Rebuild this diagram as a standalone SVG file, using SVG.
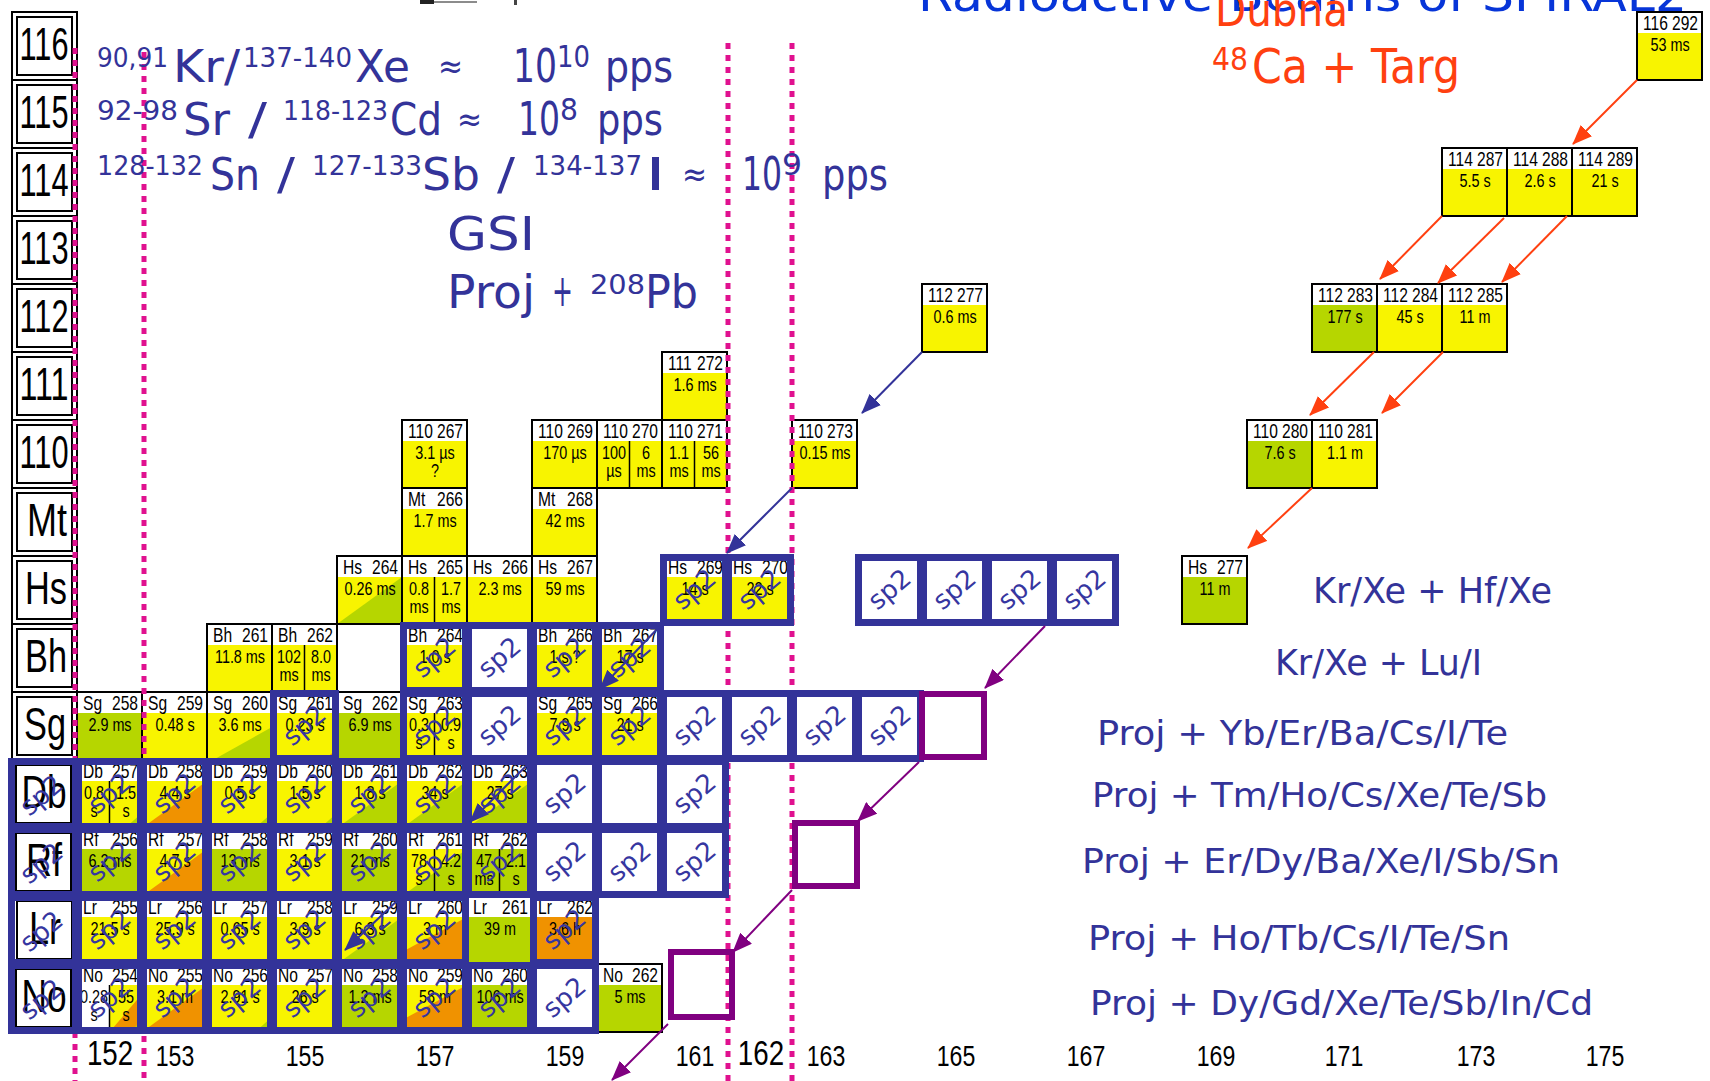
<svg xmlns="http://www.w3.org/2000/svg" xmlns:xlink="http://www.w3.org/1999/xlink" width="1710" height="1081" viewBox="0 0 1710 1081">
<style>
.W{fill:#fff}.Y{fill:#f8f400}.G{fill:#b6d600}.O{fill:#f09200}
.bk{fill:none;stroke:#000;stroke-width:2}
.bb{fill:none;stroke:#333399;stroke-width:7}
.pb{fill:none;stroke:#800080;stroke-width:6}
.s,.m,.h,.lab,.ax{font-family:'Liberation Sans Narrow','Liberation Sans',Arial,sans-serif;fill:#000}
.s{font-size:20px;transform-box:fill-box;transform-origin:left center;transform:scaleX(.78)}
.m{font-size:20px;text-anchor:end;transform-box:fill-box;transform-origin:right center;transform:scaleX(.78)}
.h{font-size:18px;text-anchor:middle;transform-box:fill-box;transform-origin:center;transform:scaleX(.8)}
.lab{font-size:46px;text-anchor:middle}
.ax{font-size:30px;text-anchor:middle;transform-box:fill-box;transform-origin:center;transform:scaleX(.77)}
.ax.big{font-size:36px}
.hw{font-family:'DejaVu Sans',sans-serif;fill:#333399}
.sp{font-family:'DejaVu Sans',sans-serif;fill:#3636a0;font-size:26px;text-anchor:middle}
.mg{stroke:#e0118f;stroke-width:5;stroke-dasharray:6 6;fill:none}
</style>
<defs>
<g id="bY"><rect class="Y" width="65" height="68"/><rect class="W" width="65" height="21"/></g>
<g id="bG"><rect class="G" width="65" height="68"/><rect class="W" width="65" height="21"/></g>
<g id="bO"><rect class="O" width="65" height="68"/><rect class="W" width="65" height="21"/></g>
<rect id="bW" class="W" width="65" height="68"/>
<rect id="bk" class="bk" width="65" height="68"/>
<rect id="bb" class="bb" x="1.5" y="1.5" width="62" height="65"/>
<polygon id="tGf" class="G" points="0,68 65,21 65,68"/>
<polygon id="tOf" class="O" points="0,68 65,21 65,68"/>
<polygon id="tGm" class="G" points="6,68 65,35 65,68"/>
<polygon id="tGs" class="G" points="48,68 65,53 65,68"/>
<polygon id="tOs" class="O" points="52,68 65,57 65,68"/>
<polygon id="tOb" class="O" points="0,56 65,21 65,68 0,68"/>
<line id="dv" x1="32.5" y1="21" x2="32.5" y2="68" stroke="#000" stroke-width="1.5"/>
<marker id="mR" markerUnits="userSpaceOnUse" markerWidth="20" markerHeight="16" viewBox="0 0 20 16" refX="19" refY="8" orient="auto"><path d="M0,0 L20,8 L0,16 z" fill="#ff4010"/></marker>
<marker id="mB" markerUnits="userSpaceOnUse" markerWidth="20" markerHeight="16" viewBox="0 0 20 16" refX="19" refY="8" orient="auto"><path d="M0,0 L20,8 L0,16 z" fill="#333399"/></marker>
<marker id="mP" markerUnits="userSpaceOnUse" markerWidth="20" markerHeight="16" viewBox="0 0 20 16" refX="19" refY="8" orient="auto"><path d="M0,0 L20,8 L0,16 z" fill="#800080"/></marker>
</defs>
<rect width="1710" height="1081" fill="#fff"/>
<g id="top-marks"><rect x="420" y="0" width="14" height="4" fill="#222"/><line x1="434" y1="2" x2="477" y2="2" stroke="#666" stroke-width="1.5"/><rect x="514" y="0" width="3" height="5" fill="#444"/></g>

<g id="row-labels">
<g id="lab-116"><rect class="bk" x="12" y="12" width="65" height="68"/><rect class="bk" x="17" y="17" width="55" height="58"/><text class="lab" x="44" y="60" textLength="49" lengthAdjust="spacingAndGlyphs">116</text></g>
<g id="lab-115"><rect class="bk" x="12" y="80" width="65" height="68"/><rect class="bk" x="17" y="85" width="55" height="58"/><text class="lab" x="44" y="128" textLength="49" lengthAdjust="spacingAndGlyphs">115</text></g>
<g id="lab-114"><rect class="bk" x="12" y="148" width="65" height="68"/><rect class="bk" x="17" y="153" width="55" height="58"/><text class="lab" x="44" y="196" textLength="49" lengthAdjust="spacingAndGlyphs">114</text></g>
<g id="lab-113"><rect class="bk" x="12" y="216" width="65" height="68"/><rect class="bk" x="17" y="221" width="55" height="58"/><text class="lab" x="44" y="264" textLength="49" lengthAdjust="spacingAndGlyphs">113</text></g>
<g id="lab-112"><rect class="bk" x="12" y="284" width="65" height="68"/><rect class="bk" x="17" y="289" width="55" height="58"/><text class="lab" x="44" y="332" textLength="49" lengthAdjust="spacingAndGlyphs">112</text></g>
<g id="lab-111"><rect class="bk" x="12" y="352" width="65" height="68"/><rect class="bk" x="17" y="357" width="55" height="58"/><text class="lab" x="44" y="400" textLength="49" lengthAdjust="spacingAndGlyphs">111</text></g>
<g id="lab-110"><rect class="bk" x="12" y="420" width="65" height="68"/><rect class="bk" x="17" y="425" width="55" height="58"/><text class="lab" x="44" y="468" textLength="49" lengthAdjust="spacingAndGlyphs">110</text></g>
<g id="lab-Mt"><rect class="bk" x="12" y="488" width="65" height="68"/><rect class="bk" x="17" y="493" width="55" height="58"/><text class="lab" x="47" y="536" textLength="40" lengthAdjust="spacingAndGlyphs">Mt</text></g>
<g id="lab-Hs"><rect class="bk" x="12" y="556" width="65" height="68"/><rect class="bk" x="17" y="561" width="55" height="58"/><text class="lab" x="46" y="604" textLength="42" lengthAdjust="spacingAndGlyphs">Hs</text></g>
<g id="lab-Bh"><rect class="bk" x="12" y="624" width="65" height="68"/><rect class="bk" x="17" y="629" width="55" height="58"/><text class="lab" x="46" y="672" textLength="42" lengthAdjust="spacingAndGlyphs">Bh</text></g>
<g id="lab-Sg"><rect class="bk" x="12" y="692" width="65" height="68"/><rect class="bk" x="17" y="697" width="55" height="58"/><text class="lab" x="45" y="740" textLength="42" lengthAdjust="spacingAndGlyphs">Sg</text></g>
<g id="lab-Db"><rect class="bk" x="16" y="765" width="55" height="58"/><text class="lab" x="44" y="808" textLength="45" lengthAdjust="spacingAndGlyphs">Db</text></g>
<g id="lab-Rf"><rect class="bk" x="16" y="833" width="55" height="58"/><text class="lab" x="44" y="876" textLength="36" lengthAdjust="spacingAndGlyphs">Rf</text></g>
<g id="lab-Lr"><rect class="bk" x="17" y="901" width="55" height="58"/><text class="lab" x="45" y="944" textLength="32" lengthAdjust="spacingAndGlyphs">Lr</text></g>
<g id="lab-No"><rect class="bk" x="16" y="969" width="55" height="58"/><text class="lab" x="44" y="1012" textLength="45" lengthAdjust="spacingAndGlyphs">No</text></g>
</g>

<g id="nuclides">
<g id="n-116-292"><use href="#bY" x="1637" y="12"/><use href="#bk" x="1637" y="12"/><text class="s" x="1643" y="30">116</text><text class="m" x="1698" y="30">292</text><text class="h" x="1670" y="51">53 ms</text></g>
<g id="n-114-287"><use href="#bY" x="1442" y="148"/><use href="#bk" x="1442" y="148"/><text class="s" x="1448" y="166">114</text><text class="m" x="1503" y="166">287</text><text class="h" x="1475" y="187">5.5 s</text></g>
<g id="n-114-288"><use href="#bY" x="1507" y="148"/><use href="#bk" x="1507" y="148"/><text class="s" x="1513" y="166">114</text><text class="m" x="1568" y="166">288</text><text class="h" x="1540" y="187">2.6 s</text></g>
<g id="n-114-289"><use href="#bY" x="1572" y="148"/><use href="#bk" x="1572" y="148"/><text class="s" x="1578" y="166">114</text><text class="m" x="1633" y="166">289</text><text class="h" x="1605" y="187">21 s</text></g>
<g id="n-112-277"><use href="#bY" x="922" y="284"/><use href="#bk" x="922" y="284"/><text class="s" x="928" y="302">112</text><text class="m" x="983" y="302">277</text><text class="h" x="955" y="323">0.6 ms</text></g>
<g id="n-112-283"><use href="#bG" x="1312" y="284"/><use href="#bk" x="1312" y="284"/><text class="s" x="1318" y="302">112</text><text class="m" x="1373" y="302">283</text><text class="h" x="1345" y="323">177 s</text></g>
<g id="n-112-284"><use href="#bY" x="1377" y="284"/><use href="#bk" x="1377" y="284"/><text class="s" x="1383" y="302">112</text><text class="m" x="1438" y="302">284</text><text class="h" x="1410" y="323">45 s</text></g>
<g id="n-112-285"><use href="#bY" x="1442" y="284"/><use href="#bk" x="1442" y="284"/><text class="s" x="1448" y="302">112</text><text class="m" x="1503" y="302">285</text><text class="h" x="1475" y="323">11 m</text></g>
<g id="n-111-272"><use href="#bY" x="662" y="352"/><use href="#bk" x="662" y="352"/><text class="s" x="668" y="370">111</text><text class="m" x="723" y="370">272</text><text class="h" x="695" y="391">1.6 ms</text></g>
<g id="n-110-267"><use href="#bY" x="402" y="420"/><use href="#bk" x="402" y="420"/><text class="s" x="408" y="438">110</text><text class="m" x="463" y="438">267</text><text class="h" x="435" y="459">3.1 µs</text><text class="h" x="435" y="477">?</text></g>
<g id="n-110-269"><use href="#bY" x="532" y="420"/><use href="#bk" x="532" y="420"/><text class="s" x="538" y="438">110</text><text class="m" x="593" y="438">269</text><text class="h" x="565" y="459">170 µs</text></g>
<g id="n-110-270"><use href="#bY" x="597" y="420"/><use href="#dv" x="597" y="420"/><use href="#bk" x="597" y="420"/><text class="s" x="603" y="438">110</text><text class="m" x="658" y="438">270</text><text class="h" x="614" y="459">100</text><text class="h" x="614" y="477">µs</text><text class="h" x="646" y="459">6</text><text class="h" x="646" y="477">ms</text></g>
<g id="n-110-271"><use href="#bY" x="662" y="420"/><use href="#dv" x="662" y="420"/><use href="#bk" x="662" y="420"/><text class="s" x="668" y="438">110</text><text class="m" x="723" y="438">271</text><text class="h" x="679" y="459">1.1</text><text class="h" x="679" y="477">ms</text><text class="h" x="711" y="459">56</text><text class="h" x="711" y="477">ms</text></g>
<g id="n-110-273"><use href="#bY" x="792" y="420"/><use href="#bk" x="792" y="420"/><text class="s" x="798" y="438">110</text><text class="m" x="853" y="438">273</text><text class="h" x="825" y="459">0.15 ms</text></g>
<g id="n-110-280"><use href="#bG" x="1247" y="420"/><use href="#bk" x="1247" y="420"/><text class="s" x="1253" y="438">110</text><text class="m" x="1308" y="438">280</text><text class="h" x="1280" y="459">7.6 s</text></g>
<g id="n-110-281"><use href="#bY" x="1312" y="420"/><use href="#bk" x="1312" y="420"/><text class="s" x="1318" y="438">110</text><text class="m" x="1373" y="438">281</text><text class="h" x="1345" y="459">1.1 m</text></g>
<g id="n-Mt266"><use href="#bY" x="402" y="488"/><use href="#bk" x="402" y="488"/><text class="s" x="408" y="506">Mt</text><text class="m" x="463" y="506">266</text><text class="h" x="435" y="527">1.7 ms</text></g>
<g id="n-Mt268"><use href="#bY" x="532" y="488"/><use href="#bk" x="532" y="488"/><text class="s" x="538" y="506">Mt</text><text class="m" x="593" y="506">268</text><text class="h" x="565" y="527">42 ms</text></g>
<g id="n-Hs264"><use href="#bY" x="337" y="556"/><use href="#tGf" x="337" y="556"/><use href="#bk" x="337" y="556"/><text class="s" x="343" y="574">Hs</text><text class="m" x="398" y="574">264</text><text class="h" x="370" y="595">0.26 ms</text></g>
<g id="n-Hs265"><use href="#bY" x="402" y="556"/><use href="#dv" x="402" y="556"/><use href="#bk" x="402" y="556"/><text class="s" x="408" y="574">Hs</text><text class="m" x="463" y="574">265</text><text class="h" x="419" y="595">0.8</text><text class="h" x="419" y="613">ms</text><text class="h" x="451" y="595">1.7</text><text class="h" x="451" y="613">ms</text></g>
<g id="n-Hs266"><use href="#bY" x="467" y="556"/><use href="#bk" x="467" y="556"/><text class="s" x="473" y="574">Hs</text><text class="m" x="528" y="574">266</text><text class="h" x="500" y="595">2.3 ms</text></g>
<g id="n-Hs267"><use href="#bY" x="532" y="556"/><use href="#bk" x="532" y="556"/><text class="s" x="538" y="574">Hs</text><text class="m" x="593" y="574">267</text><text class="h" x="565" y="595">59 ms</text></g>
<g id="n-Hs269"><use href="#bY" x="662" y="556"/><text class="s" x="668" y="574">Hs</text><text class="m" x="723" y="574">269</text><text class="h" x="695" y="595">14 s</text></g>
<g id="n-Hs270"><use href="#bY" x="727" y="556"/><text class="s" x="733" y="574">Hs</text><text class="m" x="788" y="574">270</text><text class="h" x="760" y="595">22 s</text></g>
<g id="n-Hs277"><use href="#bG" x="1182" y="556"/><use href="#bk" x="1182" y="556"/><text class="s" x="1188" y="574">Hs</text><text class="m" x="1243" y="574">277</text><text class="h" x="1215" y="595">11 m</text></g>
<g id="n-Bh261"><use href="#bY" x="207" y="624"/><use href="#bk" x="207" y="624"/><text class="s" x="213" y="642">Bh</text><text class="m" x="268" y="642">261</text><text class="h" x="240" y="663">11.8 ms</text></g>
<g id="n-Bh262"><use href="#bY" x="272" y="624"/><use href="#dv" x="272" y="624"/><use href="#bk" x="272" y="624"/><text class="s" x="278" y="642">Bh</text><text class="m" x="333" y="642">262</text><text class="h" x="289" y="663">102</text><text class="h" x="289" y="681">ms</text><text class="h" x="321" y="663">8.0</text><text class="h" x="321" y="681">ms</text></g>
<g id="n-Bh264"><use href="#bY" x="402" y="624"/><text class="s" x="408" y="642">Bh</text><text class="m" x="463" y="642">264</text><text class="h" x="435" y="663">1.0 s</text></g>
<g id="n-Bh266"><use href="#bY" x="532" y="624"/><text class="s" x="538" y="642">Bh</text><text class="m" x="593" y="642">266</text><text class="h" x="565" y="663">1 s ?</text></g>
<g id="n-Bh267"><use href="#bY" x="597" y="624"/><text class="s" x="603" y="642">Bh</text><text class="m" x="658" y="642">267</text><text class="h" x="630" y="663">17 s</text></g>
<g id="n-Sg258"><use href="#bG" x="77" y="692"/><use href="#bk" x="77" y="692"/><text class="s" x="83" y="710">Sg</text><text class="m" x="138" y="710">258</text><text class="h" x="110" y="731">2.9 ms</text></g>
<g id="n-Sg259"><use href="#bY" x="142" y="692"/><use href="#bk" x="142" y="692"/><text class="s" x="148" y="710">Sg</text><text class="m" x="203" y="710">259</text><text class="h" x="175" y="731">0.48 s</text></g>
<g id="n-Sg260"><use href="#bY" x="207" y="692"/><use href="#tGm" x="207" y="692"/><use href="#bk" x="207" y="692"/><text class="s" x="213" y="710">Sg</text><text class="m" x="268" y="710">260</text><text class="h" x="240" y="731">3.6 ms</text></g>
<g id="n-Sg261"><use href="#bY" x="272" y="692"/><use href="#tOs" x="272" y="692"/><text class="s" x="278" y="710">Sg</text><text class="m" x="333" y="710">261</text><text class="h" x="305" y="731">0.23 s</text></g>
<g id="n-Sg262"><use href="#bG" x="337" y="692"/><use href="#bk" x="337" y="692"/><text class="s" x="343" y="710">Sg</text><text class="m" x="398" y="710">262</text><text class="h" x="370" y="731">6.9 ms</text></g>
<g id="n-Sg263"><use href="#bY" x="402" y="692"/><use href="#dv" x="402" y="692"/><text class="s" x="408" y="710">Sg</text><text class="m" x="463" y="710">263</text><text class="h" x="419" y="731">0.3</text><text class="h" x="419" y="749">s</text><text class="h" x="451" y="731">0.9</text><text class="h" x="451" y="749">s</text></g>
<g id="n-Sg265"><use href="#bY" x="532" y="692"/><text class="s" x="538" y="710">Sg</text><text class="m" x="593" y="710">265</text><text class="h" x="565" y="731">7.9 s</text></g>
<g id="n-Sg266"><use href="#bY" x="597" y="692"/><text class="s" x="603" y="710">Sg</text><text class="m" x="658" y="710">266</text><text class="h" x="630" y="731">21 s</text></g>
<g id="n-Db257"><use href="#bY" x="77" y="760"/><use href="#tGs" x="77" y="760"/><use href="#dv" x="77" y="760"/><text class="s" x="83" y="778">Db</text><text class="m" x="138" y="778">257</text><text class="h" x="94" y="799">0.8</text><text class="h" x="94" y="817">s</text><text class="h" x="126" y="799">1.5</text><text class="h" x="126" y="817">s</text></g>
<g id="n-Db258"><use href="#bY" x="142" y="760"/><use href="#tOf" x="142" y="760"/><text class="s" x="148" y="778">Db</text><text class="m" x="203" y="778">258</text><text class="h" x="175" y="799">4.4 s</text></g>
<g id="n-Db259"><use href="#bY" x="207" y="760"/><use href="#tGs" x="207" y="760"/><text class="s" x="213" y="778">Db</text><text class="m" x="268" y="778">259</text><text class="h" x="240" y="799">0.5 s</text></g>
<g id="n-Db260"><use href="#bY" x="272" y="760"/><use href="#tGs" x="272" y="760"/><text class="s" x="278" y="778">Db</text><text class="m" x="333" y="778">260</text><text class="h" x="305" y="799">1.5 s</text></g>
<g id="n-Db261"><use href="#bY" x="337" y="760"/><use href="#tGf" x="337" y="760"/><text class="s" x="343" y="778">Db</text><text class="m" x="398" y="778">261</text><text class="h" x="370" y="799">1.8 s</text></g>
<g id="n-Db262"><use href="#bY" x="402" y="760"/><use href="#tGf" x="402" y="760"/><text class="s" x="408" y="778">Db</text><text class="m" x="463" y="778">262</text><text class="h" x="435" y="799">34 s</text></g>
<g id="n-Db263"><use href="#bY" x="467" y="760"/><use href="#tGf" x="467" y="760"/><text class="s" x="473" y="778">Db</text><text class="m" x="528" y="778">263</text><text class="h" x="500" y="799">27 s</text></g>
<g id="n-Rf256"><use href="#bG" x="77" y="828"/><text class="s" x="83" y="846">Rf</text><text class="m" x="138" y="846">256</text><text class="h" x="110" y="867">6.2 ms</text></g>
<g id="n-Rf257"><use href="#bY" x="142" y="828"/><use href="#tOf" x="142" y="828"/><text class="s" x="148" y="846">Rf</text><text class="m" x="203" y="846">257</text><text class="h" x="175" y="867">4.7 s</text></g>
<g id="n-Rf258"><use href="#bG" x="207" y="828"/><text class="s" x="213" y="846">Rf</text><text class="m" x="268" y="846">258</text><text class="h" x="240" y="867">13 ms</text></g>
<g id="n-Rf259"><use href="#bY" x="272" y="828"/><text class="s" x="278" y="846">Rf</text><text class="m" x="333" y="846">259</text><text class="h" x="305" y="867">3.1 s</text></g>
<g id="n-Rf260"><use href="#bG" x="337" y="828"/><text class="s" x="343" y="846">Rf</text><text class="m" x="398" y="846">260</text><text class="h" x="370" y="867">21 ms</text></g>
<g id="n-Rf261"><use href="#bY" x="402" y="828"/><use href="#tGf" x="402" y="828"/><use href="#dv" x="402" y="828"/><text class="s" x="408" y="846">Rf</text><text class="m" x="463" y="846">261</text><text class="h" x="419" y="867">78</text><text class="h" x="419" y="885">s</text><text class="h" x="451" y="867">4.2</text><text class="h" x="451" y="885">s</text></g>
<g id="n-Rf262"><use href="#bG" x="467" y="828"/><use href="#dv" x="467" y="828"/><text class="s" x="473" y="846">Rf</text><text class="m" x="528" y="846">262</text><text class="h" x="484" y="867">47</text><text class="h" x="484" y="885">ms</text><text class="h" x="516" y="867">2.1</text><text class="h" x="516" y="885">s</text></g>
<g id="n-Lr255"><use href="#bY" x="77" y="896"/><text class="s" x="83" y="914">Lr</text><text class="m" x="138" y="914">255</text><text class="h" x="110" y="935">21.5 s</text></g>
<g id="n-Lr256"><use href="#bY" x="142" y="896"/><text class="s" x="148" y="914">Lr</text><text class="m" x="203" y="914">256</text><text class="h" x="175" y="935">25.9 s</text></g>
<g id="n-Lr257"><use href="#bY" x="207" y="896"/><text class="s" x="213" y="914">Lr</text><text class="m" x="268" y="914">257</text><text class="h" x="240" y="935">0.65 s</text></g>
<g id="n-Lr258"><use href="#bY" x="272" y="896"/><text class="s" x="278" y="914">Lr</text><text class="m" x="333" y="914">258</text><text class="h" x="305" y="935">3.9 s</text></g>
<g id="n-Lr259"><use href="#bY" x="337" y="896"/><use href="#tGf" x="337" y="896"/><text class="s" x="343" y="914">Lr</text><text class="m" x="398" y="914">259</text><text class="h" x="370" y="935">6.3 s</text></g>
<g id="n-Lr260"><use href="#bY" x="402" y="896"/><use href="#tOb" x="402" y="896"/><text class="s" x="408" y="914">Lr</text><text class="m" x="463" y="914">260</text><text class="h" x="435" y="935">3 m</text></g>
<g id="n-Lr261"><use href="#bG" x="467" y="896"/><use href="#bk" x="467" y="896"/><text class="s" x="473" y="914">Lr</text><text class="m" x="528" y="914">261</text><text class="h" x="500" y="935">39 m</text></g>
<g id="n-Lr262"><use href="#bO" x="532" y="896"/><text class="s" x="538" y="914">Lr</text><text class="m" x="593" y="914">262</text><text class="h" x="565" y="935">3.6 h</text></g>
<g id="n-No254"><rect class="W" x="77" y="964" width="65" height="68"/><rect class="Y" x="109.5" y="985" width="32.5" height="47"/><polygon class="O" points="109.5,1032 142,994 142,1032"/><polygon class="G" points="130,1032 142,1020 142,1032"/><use href="#dv" x="77" y="964"/><text class="s" x="83" y="982">No</text><text class="m" x="138" y="982">254</text><text class="h" x="94" y="1003">0.28</text><text class="h" x="94" y="1021">s</text><text class="h" x="126" y="1003">55</text><text class="h" x="126" y="1021">s</text></g>
<g id="n-No255"><use href="#bY" x="142" y="964"/><use href="#tOf" x="142" y="964"/><text class="s" x="148" y="982">No</text><text class="m" x="203" y="982">255</text><text class="h" x="175" y="1003">3.1 m</text></g>
<g id="n-No256"><use href="#bY" x="207" y="964"/><use href="#tGs" x="207" y="964"/><text class="s" x="213" y="982">No</text><text class="m" x="268" y="982">256</text><text class="h" x="240" y="1003">2.91 s</text></g>
<g id="n-No257"><use href="#bY" x="272" y="964"/><text class="s" x="278" y="982">No</text><text class="m" x="333" y="982">257</text><text class="h" x="305" y="1003">26 s</text></g>
<g id="n-No258"><use href="#bG" x="337" y="964"/><text class="s" x="343" y="982">No</text><text class="m" x="398" y="982">258</text><text class="h" x="370" y="1003">1.2 ms</text></g>
<g id="n-No259"><use href="#bY" x="402" y="964"/><use href="#tOb" x="402" y="964"/><text class="s" x="408" y="982">No</text><text class="m" x="463" y="982">259</text><text class="h" x="435" y="1003">58 m</text></g>
<g id="n-No260"><use href="#bG" x="467" y="964"/><text class="s" x="473" y="982">No</text><text class="m" x="528" y="982">260</text><text class="h" x="500" y="1003">106 ms</text></g>
<g id="n-No262"><use href="#bG" x="597" y="964"/><use href="#bk" x="597" y="964"/><text class="s" x="603" y="982">No</text><text class="m" x="658" y="982">262</text><text class="h" x="630" y="1003">5 ms</text></g>
</g>

<g id="magenta-lines">
<line class="mg" x1="75" y1="48" x2="75" y2="1081"/>
<line class="mg" x1="144" y1="52" x2="144" y2="1081"/>
<line class="mg" x1="728" y1="43" x2="728" y2="1081"/>
<line class="mg" x1="792" y1="43" x2="792" y2="1081"/>
</g>

<g id="sp2-frames">
<g id="sp2-empty-boxes">
<use href="#bW" x="857" y="556"/><use href="#bW" x="922" y="556"/><use href="#bW" x="987" y="556"/><use href="#bW" x="1052" y="556"/>
<use href="#bW" x="467" y="624"/>
<use href="#bW" x="467" y="692"/><use href="#bW" x="662" y="692"/><use href="#bW" x="727" y="692"/><use href="#bW" x="792" y="692"/><use href="#bW" x="857" y="692"/>
<use href="#bW" x="532" y="760"/><use href="#bW" x="597" y="760"/><use href="#bW" x="662" y="760"/>
<use href="#bW" x="532" y="828"/><use href="#bW" x="597" y="828"/><use href="#bW" x="662" y="828"/>
<use href="#bW" x="532" y="964"/>
</g>
<rect class="bb" x="11.5" y="761.5" width="64" height="65"/>
<rect class="bb" x="11.5" y="829.5" width="64" height="65"/>
<rect class="bb" x="11.5" y="897.5" width="64" height="65"/>
<rect class="bb" x="11.5" y="965.5" width="64" height="65"/>
<use href="#bb" x="662" y="556"/><use href="#bb" x="727" y="556"/><use href="#bb" x="857" y="556"/><use href="#bb" x="922" y="556"/><use href="#bb" x="987" y="556"/><use href="#bb" x="1052" y="556"/>
<use href="#bb" x="402" y="624"/><use href="#bb" x="467" y="624"/><use href="#bb" x="532" y="624"/><use href="#bb" x="597" y="624"/>
<use href="#bb" x="272" y="692"/><use href="#bb" x="402" y="692"/><use href="#bb" x="467" y="692"/><use href="#bb" x="532" y="692"/><use href="#bb" x="597" y="692"/><use href="#bb" x="662" y="692"/><use href="#bb" x="727" y="692"/><use href="#bb" x="792" y="692"/><use href="#bb" x="857" y="692"/>
<use href="#bb" x="77" y="760"/><use href="#bb" x="142" y="760"/><use href="#bb" x="207" y="760"/><use href="#bb" x="272" y="760"/><use href="#bb" x="337" y="760"/><use href="#bb" x="402" y="760"/><use href="#bb" x="467" y="760"/><use href="#bb" x="532" y="760"/><use href="#bb" x="597" y="760"/><use href="#bb" x="662" y="760"/>
<use href="#bb" x="77" y="828"/><use href="#bb" x="142" y="828"/><use href="#bb" x="207" y="828"/><use href="#bb" x="272" y="828"/><use href="#bb" x="337" y="828"/><use href="#bb" x="402" y="828"/><use href="#bb" x="467" y="828"/><use href="#bb" x="532" y="828"/><use href="#bb" x="597" y="828"/><use href="#bb" x="662" y="828"/>
<use href="#bb" x="77" y="896"/><use href="#bb" x="142" y="896"/><use href="#bb" x="207" y="896"/><use href="#bb" x="272" y="896"/><use href="#bb" x="337" y="896"/><use href="#bb" x="402" y="896"/><use href="#bb" x="532" y="896"/>
<use href="#bb" x="77" y="964"/><use href="#bb" x="142" y="964"/><use href="#bb" x="207" y="964"/><use href="#bb" x="272" y="964"/><use href="#bb" x="337" y="964"/><use href="#bb" x="402" y="964"/><use href="#bb" x="467" y="964"/><use href="#bb" x="532" y="964"/>
</g>

<g id="sp2-marks">
<text class="sp" y="8" transform="translate(695 590) rotate(-40)">sp2</text>
<text class="sp" y="8" transform="translate(760 590) rotate(-40)">sp2</text>
<text class="sp" y="8" transform="translate(890 590) rotate(-40)">sp2</text>
<text class="sp" y="8" transform="translate(955 590) rotate(-40)">sp2</text>
<text class="sp" y="8" transform="translate(1020 590) rotate(-40)">sp2</text>
<text class="sp" y="8" transform="translate(1085 590) rotate(-40)">sp2</text>
<text class="sp" y="8" transform="translate(435 658) rotate(-40)">sp2</text>
<text class="sp" y="8" transform="translate(500 658) rotate(-40)">sp2</text>
<text class="sp" y="8" transform="translate(565 658) rotate(-40)">sp2</text>
<text class="sp" y="8" transform="translate(630 658) rotate(-40)">sp2</text>
<text class="sp" y="8" transform="translate(305 726) rotate(-40)">sp2</text>
<text class="sp" y="8" transform="translate(435 726) rotate(-40)">sp2</text>
<text class="sp" y="8" transform="translate(500 726) rotate(-40)">sp2</text>
<text class="sp" y="8" transform="translate(565 726) rotate(-40)">sp2</text>
<text class="sp" y="8" transform="translate(630 726) rotate(-40)">sp2</text>
<text class="sp" y="8" transform="translate(695 726) rotate(-40)">sp2</text>
<text class="sp" y="8" transform="translate(760 726) rotate(-40)">sp2</text>
<text class="sp" y="8" transform="translate(825 726) rotate(-40)">sp2</text>
<text class="sp" y="8" transform="translate(890 726) rotate(-40)">sp2</text>
<text class="sp" y="8" transform="translate(42 796) rotate(-40)">sp2</text>
<text class="sp" y="8" transform="translate(110 794) rotate(-40)">sp2</text>
<text class="sp" y="8" transform="translate(175 794) rotate(-40)">sp2</text>
<text class="sp" y="8" transform="translate(240 794) rotate(-40)">sp2</text>
<text class="sp" y="8" transform="translate(305 794) rotate(-40)">sp2</text>
<text class="sp" y="8" transform="translate(370 794) rotate(-40)">sp2</text>
<text class="sp" y="8" transform="translate(435 794) rotate(-40)">sp2</text>
<text class="sp" y="8" transform="translate(500 794) rotate(-40)">sp2</text>
<text class="sp" y="8" transform="translate(565 794) rotate(-40)">sp2</text>
<text class="sp" y="8" transform="translate(695 794) rotate(-40)">sp2</text>
<text class="sp" y="8" transform="translate(42 864) rotate(-40)">sp2</text>
<text class="sp" y="8" transform="translate(110 862) rotate(-40)">sp2</text>
<text class="sp" y="8" transform="translate(175 862) rotate(-40)">sp2</text>
<text class="sp" y="8" transform="translate(240 862) rotate(-40)">sp2</text>
<text class="sp" y="8" transform="translate(305 862) rotate(-40)">sp2</text>
<text class="sp" y="8" transform="translate(370 862) rotate(-40)">sp2</text>
<text class="sp" y="8" transform="translate(435 862) rotate(-40)">sp2</text>
<text class="sp" y="8" transform="translate(500 862) rotate(-40)">sp2</text>
<text class="sp" y="8" transform="translate(565 862) rotate(-40)">sp2</text>
<text class="sp" y="8" transform="translate(630 862) rotate(-40)">sp2</text>
<text class="sp" y="8" transform="translate(695 862) rotate(-40)">sp2</text>
<text class="sp" y="8" transform="translate(42 932) rotate(-40)">sp2</text>
<text class="sp" y="8" transform="translate(110 930) rotate(-40)">sp2</text>
<text class="sp" y="8" transform="translate(175 930) rotate(-40)">sp2</text>
<text class="sp" y="8" transform="translate(240 930) rotate(-40)">sp2</text>
<text class="sp" y="8" transform="translate(305 930) rotate(-40)">sp2</text>
<text class="sp" y="8" transform="translate(370 930) rotate(-40)">sp2</text>
<text class="sp" y="8" transform="translate(435 930) rotate(-40)">sp2</text>
<text class="sp" y="8" transform="translate(565 930) rotate(-40)">sp2</text>
<text class="sp" y="8" transform="translate(42 1000) rotate(-40)">sp2</text>
<text class="sp" y="8" transform="translate(110 998) rotate(-40)">sp2</text>
<text class="sp" y="8" transform="translate(175 998) rotate(-40)">sp2</text>
<text class="sp" y="8" transform="translate(240 998) rotate(-40)">sp2</text>
<text class="sp" y="8" transform="translate(305 998) rotate(-40)">sp2</text>
<text class="sp" y="8" transform="translate(370 998) rotate(-40)">sp2</text>
<text class="sp" y="8" transform="translate(435 998) rotate(-40)">sp2</text>
<text class="sp" y="8" transform="translate(500 998) rotate(-40)">sp2</text>
<text class="sp" y="8" transform="translate(565 998) rotate(-40)">sp2</text>
</g>

<g id="target-boxes">
<rect id="box-Sg270" class="pb" x="922" y="694" width="62" height="63"/>
<rect id="box-Rf267" class="pb" x="795" y="823" width="62" height="63"/>
<rect id="box-No263" class="pb" x="671" y="952" width="61" height="65"/>
</g>

<g id="connectors" fill="none" stroke-width="2">
<line x1="1637" y1="80" x2="1573" y2="144" stroke="#ff4010" marker-end="url(#mR)"/>
<line x1="1442" y1="216" x2="1380" y2="279" stroke="#ff4010" marker-end="url(#mR)"/>
<line x1="1504" y1="218" x2="1438" y2="283" stroke="#ff4010" marker-end="url(#mR)"/>
<line x1="1567" y1="216" x2="1502" y2="282" stroke="#ff4010" marker-end="url(#mR)"/>
<line x1="1374" y1="352" x2="1310" y2="415" stroke="#ff4010" marker-end="url(#mR)"/>
<line x1="1443" y1="352" x2="1382" y2="413" stroke="#ff4010" marker-end="url(#mR)"/>
<line x1="1312" y1="488" x2="1248" y2="548" stroke="#ff4010" marker-end="url(#mR)"/>
<line x1="922" y1="352" x2="862" y2="413" stroke="#333399" marker-end="url(#mB)"/>
<line x1="792" y1="488" x2="727" y2="553" stroke="#333399" marker-end="url(#mB)"/>
<line x1="660" y1="626" x2="600" y2="689" stroke="#333399" marker-end="url(#mB)"/>
<line x1="530" y1="762" x2="470" y2="822" stroke="#333399" marker-end="url(#mB)"/>
<line x1="400" y1="898" x2="345" y2="950" stroke="#333399" marker-end="url(#mB)"/>
<line x1="1045" y1="626" x2="985" y2="688" stroke="#800080" marker-end="url(#mP)"/>
<line x1="919" y1="762" x2="858" y2="821" stroke="#800080" marker-end="url(#mP)"/>
<line x1="792" y1="890" x2="733" y2="952" stroke="#800080" marker-end="url(#mP)"/>
<line x1="668" y1="1024" x2="612" y2="1080" stroke="#800080" marker-end="url(#mP)"/>
</g>

<g id="axis">
<text class="ax big" x="110" y="1065">152</text>
<text class="ax" x="175" y="1066">153</text>
<text class="ax" x="305" y="1066">155</text>
<text class="ax" x="435" y="1066">157</text>
<text class="ax" x="565" y="1066">159</text>
<text class="ax" x="695" y="1066">161</text>
<text class="ax big" x="761" y="1065">162</text>
<text class="ax" x="826" y="1066">163</text>
<text class="ax" x="956" y="1066">165</text>
<text class="ax" x="1086" y="1066">167</text>
<text class="ax" x="1216" y="1066">169</text>
<text class="ax" x="1344" y="1066">171</text>
<text class="ax" x="1476" y="1066">173</text>
<text class="ax" x="1605" y="1066">175</text>
</g>

<g id="annotations" class="hw">
<text x="918" y="11" font-size="46" textLength="769" lengthAdjust="spacingAndGlyphs" fill="#0735d8">Radioactive Beams of SPIRAL2</text>
<text x="1215" y="26" font-size="46" textLength="133" lengthAdjust="spacingAndGlyphs" fill="#ff4010">Dubna</text>
<text x="1212" y="70" font-size="32" textLength="36" lengthAdjust="spacingAndGlyphs" fill="#ff4010">48</text>
<text x="1252" y="83" font-size="48" textLength="208" lengthAdjust="spacingAndGlyphs" fill="#ff4010">Ca + Targ</text>

<text x="97" y="67" font-size="27" textLength="71" lengthAdjust="spacingAndGlyphs">90,91</text>
<text x="173" y="82" font-size="44" textLength="67" lengthAdjust="spacingAndGlyphs">Kr/</text>
<text x="243" y="67" font-size="27" textLength="109" lengthAdjust="spacingAndGlyphs">137-140</text>
<text x="355" y="82" font-size="44" textLength="55" lengthAdjust="spacingAndGlyphs">Xe</text>
<text x="438" y="78" font-size="34" textLength="25" lengthAdjust="spacingAndGlyphs">≈</text>
<text x="513" y="82" font-size="46" textLength="44" lengthAdjust="spacingAndGlyphs">10</text>
<text x="557" y="67" font-size="30" textLength="33" lengthAdjust="spacingAndGlyphs">10</text>
<text x="605" y="82" font-size="44" textLength="68" lengthAdjust="spacingAndGlyphs">pps</text>

<text x="97" y="120" font-size="27" textLength="81" lengthAdjust="spacingAndGlyphs">92-98</text>
<text x="183" y="135" font-size="44" textLength="47" lengthAdjust="spacingAndGlyphs">Sr</text>
<text x="248" y="135" font-size="44" textLength="19" lengthAdjust="spacingAndGlyphs">/</text>
<text x="283" y="120" font-size="27" textLength="105" lengthAdjust="spacingAndGlyphs">118-123</text>
<text x="390" y="135" font-size="44" textLength="52" lengthAdjust="spacingAndGlyphs">Cd</text>
<text x="457" y="131" font-size="34" textLength="25" lengthAdjust="spacingAndGlyphs">≈</text>
<text x="518" y="135" font-size="46" textLength="42" lengthAdjust="spacingAndGlyphs">10</text>
<text x="560" y="120" font-size="30" textLength="18" lengthAdjust="spacingAndGlyphs">8</text>
<text x="597" y="135" font-size="44" textLength="66" lengthAdjust="spacingAndGlyphs">pps</text>

<text x="97" y="175" font-size="27" textLength="106" lengthAdjust="spacingAndGlyphs">128-132</text>
<text x="210" y="190" font-size="44" textLength="50" lengthAdjust="spacingAndGlyphs">Sn</text>
<text x="277" y="190" font-size="44" textLength="18" lengthAdjust="spacingAndGlyphs">/</text>
<text x="312" y="175" font-size="27" textLength="110" lengthAdjust="spacingAndGlyphs">127-133</text>
<text x="422" y="190" font-size="44" textLength="58" lengthAdjust="spacingAndGlyphs">Sb</text>
<text x="497" y="190" font-size="44" textLength="18" lengthAdjust="spacingAndGlyphs">/</text>
<text x="533" y="175" font-size="27" textLength="109" lengthAdjust="spacingAndGlyphs">134-137</text>
<text x="645" y="190" font-size="44" textLength="21" lengthAdjust="spacingAndGlyphs">I</text>
<text x="682" y="186" font-size="34" textLength="25" lengthAdjust="spacingAndGlyphs">≈</text>
<text x="742" y="190" font-size="46" textLength="40" lengthAdjust="spacingAndGlyphs">10</text>
<text x="782" y="175" font-size="30" textLength="20" lengthAdjust="spacingAndGlyphs">9</text>
<text x="822" y="190" font-size="44" textLength="66" lengthAdjust="spacingAndGlyphs">pps</text>

<text x="447" y="250" font-size="46" textLength="88" lengthAdjust="spacingAndGlyphs">GSI</text>
<text x="447" y="308" font-size="46" textLength="88" lengthAdjust="spacingAndGlyphs">Proj</text>
<text x="552" y="306" font-size="44" textLength="21" lengthAdjust="spacingAndGlyphs">+</text>
<text x="590" y="294" font-size="27" textLength="55" lengthAdjust="spacingAndGlyphs">208</text>
<text x="645" y="308" font-size="46" textLength="53" lengthAdjust="spacingAndGlyphs">Pb</text>

<text x="1313" y="603" font-size="35" textLength="239" lengthAdjust="spacingAndGlyphs">Kr/Xe + Hf/Xe</text>
<text x="1275" y="675" font-size="35" textLength="207" lengthAdjust="spacingAndGlyphs">Kr/Xe + Lu/I</text>
<text x="1097" y="745" font-size="33" textLength="411" lengthAdjust="spacingAndGlyphs">Proj + Yb/Er/Ba/Cs/I/Te</text>
<text x="1092" y="807" font-size="33" textLength="455" lengthAdjust="spacingAndGlyphs">Proj + Tm/Ho/Cs/Xe/Te/Sb</text>
<text x="1082" y="873" font-size="33" textLength="478" lengthAdjust="spacingAndGlyphs">Proj + Er/Dy/Ba/Xe/I/Sb/Sn</text>
<text x="1088" y="950" font-size="33" textLength="422" lengthAdjust="spacingAndGlyphs">Proj + Ho/Tb/Cs/I/Te/Sn</text>
<text x="1090" y="1015" font-size="33" textLength="503" lengthAdjust="spacingAndGlyphs">Proj + Dy/Gd/Xe/Te/Sb/In/Cd</text>
</g>
</svg>
